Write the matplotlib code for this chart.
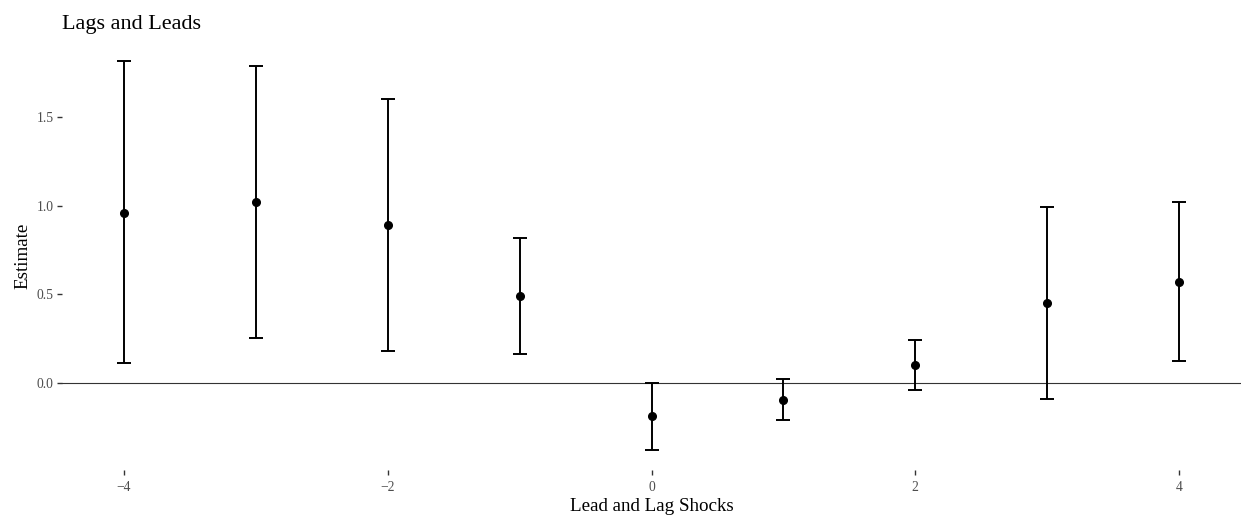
import matplotlib
matplotlib.use("Agg")
import matplotlib.pyplot as plt

# lead/lag coefficient estimates with confidence bounds
shocks = [-4, -3, -2, -1, 0, 1, 2, 3, 4]
estimate = [0.96, 1.02, 0.89, 0.49, -0.19, -0.10, 0.10, 0.45, 0.57]
lower = [0.11, 0.25, 0.18, 0.16, -0.38, -0.21, -0.04, -0.09, 0.12]
upper = [1.82, 1.79, 1.60, 0.82, 0.00, 0.02, 0.24, 0.99, 1.02]

plt.rcParams['font.family'] = ['Liberation Serif', 'DejaVu Serif']

fig = plt.figure(figsize=(12.41, 5.22), dpi=100)
ax = fig.add_axes([0.05, 0.0996, 0.95, 0.8218])

ax.axhline(0, color='#333333', linewidth=0.8, zorder=1)

yerr = [[e - l for e, l in zip(estimate, lower)],
        [u - e for e, u in zip(estimate, upper)]]
ax.errorbar(shocks, estimate, yerr=yerr, fmt='o', color='black',
            markersize=5.5, elinewidth=1.4, capsize=4.7, capthick=1.4, zorder=3)

ax.set_xlim(-4.47, 4.47)
ax.set_ylim(-0.493, 1.93)
ax.set_xticks([-4, -2, 0, 2, 4])
ax.set_xticklabels(['\u22124', '\u22122', '0', '2', '4'])
ax.set_yticks([0.0, 0.5, 1.0, 1.5])
ax.set_yticklabels(['0.0', '0.5', '1.0', '1.5'])

for s in ax.spines.values():
    s.set_visible(False)
ax.tick_params(axis='both', length=3.6, width=1.0, color='#333333',
               labelcolor='#4d4d4d', labelsize=9.8, pad=2.5)
ax.tick_params(axis='x', pad=4.5)

ax.set_xlabel('Lead and Lag Shocks', fontsize=13.7, labelpad=3)
ax.set_ylabel('Estimate', fontsize=13.7, labelpad=3.5)
ax.set_title('Lags and Leads', fontsize=16, loc='left', pad=9)

fig.savefig('out.png', dpi=100)
